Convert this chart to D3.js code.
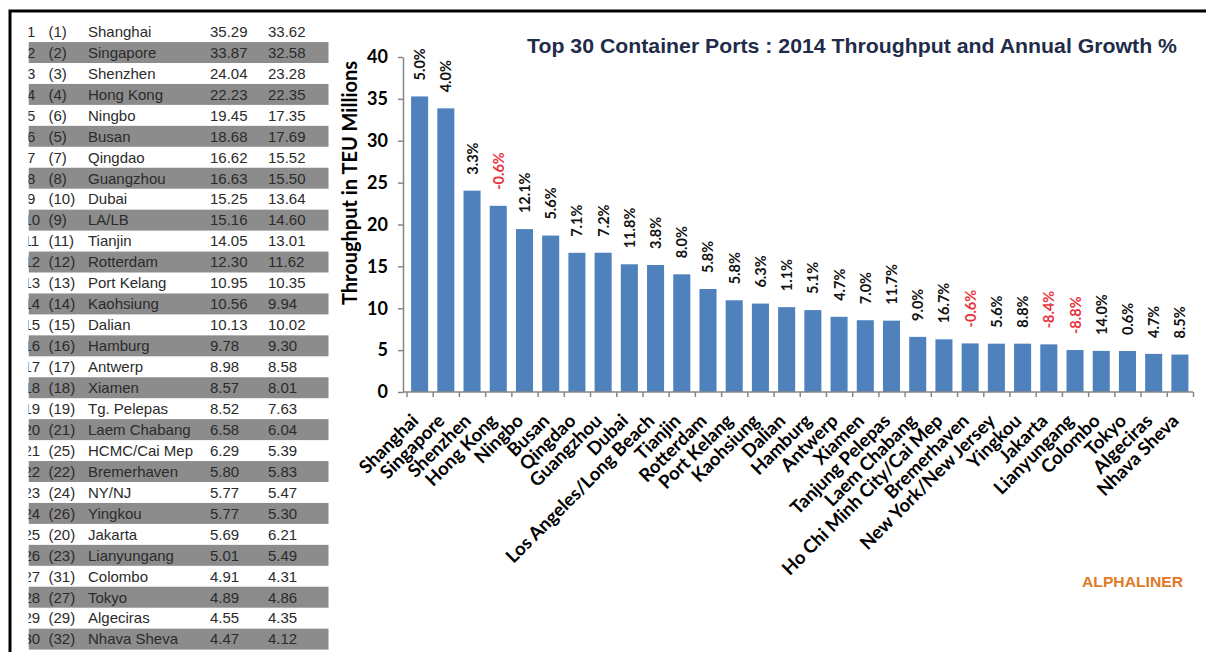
<!DOCTYPE html>
<html>
<head>
<meta charset="utf-8">
<script src="https://cdn.jsdelivr.net/npm/d3@7"></script>
<style>
  html, body { margin: 0; padding: 0; background: #fff; }
  svg { display: block; }
</style>
</head>
<body>
<div id="container"></div>
<script>
const width = 1206, height = 652;

// --- Data: ranking table (left) ------------------------------------------------
const ranks = d3.range(1, 31);
const prevRanks = [1, 2, 3, 4, 6, 5, 7, 8, 10, 9, 11, 12, 13, 14, 15, 16, 17, 18, 19, 21, 25, 22, 24, 26, 20, 23, 31, 27, 29, 32];
const tableNames = ["Shanghai", "Singapore", "Shenzhen", "Hong Kong", "Ningbo", "Busan", "Qingdao", "Guangzhou", "Dubai", "LA/LB",
  "Tianjin", "Rotterdam", "Port Kelang", "Kaohsiung", "Dalian", "Hamburg", "Antwerp", "Xiamen", "Tg. Pelepas", "Laem Chabang",
  "HCMC/Cai Mep", "Bremerhaven", "NY/NJ", "Yingkou", "Jakarta", "Lianyungang", "Colombo", "Tokyo", "Algeciras", "Nhava Sheva"];
const teu2014 = [35.29, 33.87, 24.04, 22.23, 19.45, 18.68, 16.62, 16.63, 15.25, 15.16, 14.05, 12.30, 10.95, 10.56, 10.13,
  9.78, 8.98, 8.57, 8.52, 6.58, 6.29, 5.80, 5.77, 5.77, 5.69, 5.01, 4.91, 4.89, 4.55, 4.47];
const teu2013 = [33.62, 32.58, 23.28, 22.35, 17.35, 17.69, 15.52, 15.50, 13.64, 14.60, 13.01, 11.62, 10.35, 9.94, 10.02,
  9.30, 8.58, 8.01, 7.63, 6.04, 5.39, 5.83, 5.47, 5.30, 6.21, 5.49, 4.31, 4.86, 4.35, 4.12];

// --- Data: bar chart (right) ---------------------------------------------------
const portNames = ["Shanghai", "Singapore", "Shenzhen", "Hong Kong", "Ningbo", "Busan", "Qingdao", "Guangzhou", "Dubai",
  "Los Angeles/Long Beach", "Tianjin", "Rotterdam", "Port Kelang", "Kaohsiung", "Dalian", "Hamburg", "Antwerp", "Xiamen",
  "Tanjung Pelepas", "Laem Chabang", "Ho Chi Minh City/Cai Mep", "Bremerhaven", "New York/New Jersey", "Yingkou", "Jakarta",
  "Lianyungang", "Colombo", "Tokyo", "Algeciras", "Nhava Sheva"];
const throughput = teu2014;
const growth = [5.0, 4.0, 3.3, -0.6, 12.1, 5.6, 7.1, 7.2, 11.8, 3.8, 8.0, 5.8, 5.8, 6.3, 1.1, 5.1, 4.7, 7.0, 11.7, 9.0,
  16.7, -0.6, 5.6, 8.8, -8.4, -8.8, 14.0, 0.6, 4.7, 8.5];
const yTicks = [0, 5, 10, 15, 20, 25, 30, 35, 40];

const svg = d3.select("#container").append("svg").attr("width", width).attr("height", height);
svg.append("rect").attr("width", width).attr("height", height).attr("fill", "#fff");

// --- Table (cropped on its left edge, as in the source image) --------------------
svg.append("defs").append("clipPath").attr("id", "tblClip")
  .append("rect").attr("x", 28.5).attr("y", 0).attr("width", 310).attr("height", height);

const rowY = d3.scaleBand().domain(d3.range(30)).range([21.1, 21.1 + 30 * 20.95]);
const tbl = svg.append("g").attr("clip-path", "url(#tblClip)");

tbl.selectAll("rect.band")
  .data(d3.range(30).filter((i) => i % 2 === 1))
  .join("rect")
  .attr("class", "band")
  .attr("x", 28.5)
  .attr("width", 300)
  .attr("y", (i) => rowY(i))
  .attr("height", rowY.bandwidth())
  .attr("fill", "#8c8c8c");

const cols = [
  { x: (i) => (ranks[i] < 10 ? 27 : 23.5), get: (i) => String(ranks[i]) },
  { x: () => 48.5, get: (i) => `(${prevRanks[i]})` },
  { x: () => 88, get: (i) => tableNames[i] },
  { x: () => 210, get: (i) => teu2014[i].toFixed(2) },
  { x: () => 268, get: (i) => teu2013[i].toFixed(2) },
];
cols.forEach((c) => {
  tbl.selectAll(null)
    .data(d3.range(30))
    .join("text")
    .attr("x", c.x)
    .attr("y", (i) => rowY(i) + rowY.bandwidth() / 2 + 5.3)
    .attr("fill", "#2b2b2b")
    .style("font", "15px 'Liberation Sans', Arial, sans-serif")
    .text(c.get);
});

// --- Frame -----------------------------------------------------------------------
svg.append("path")
  .attr("d", `M10,${height} V11 H${width}`)
  .attr("fill", "none")
  .attr("stroke", "#000")
  .attr("stroke-width", 3);

// --- Chart scales ------------------------------------------------------------------
const x = d3.scaleBand().domain(portNames).range([406.5, 1193]).paddingInner(0.35).paddingOuter(0.175);
const y = d3.scaleLinear().domain([0, 40]).range([392, 57]);
const slot = d3.scaleLinear().domain([0, portNames.length]).range([406.5, 1193]);
const axisX0 = 403;
const labelFont = "Lato, 'Open Sans', sans-serif";

// bars
svg.selectAll("rect.bar")
  .data(portNames)
  .join("rect")
  .attr("class", "bar")
  .attr("x", (d) => x(d))
  .attr("width", x.bandwidth())
  .attr("y", (d, i) => y(throughput[i]))
  .attr("height", (d, i) => y(0) - y(throughput[i]))
  .attr("fill", "#4f81bd");

// y axis
const yAxis = svg.append("g")
  .attr("transform", `translate(${axisX0},0)`)
  .call(d3.axisLeft(y).tickValues(yTicks).tickSize(5).tickSizeOuter(0).tickPadding(10));
yAxis.select(".domain").attr("stroke", "#868686").attr("stroke-width", 1.5);
yAxis.selectAll(".tick line").attr("stroke", "#868686").attr("stroke-width", 1.5);
yAxis.selectAll(".tick text")
  .attr("fill", "#000")
  .style("font-family", labelFont)
  .style("font-weight", "700")
  .style("font-size", "18px");

// x axis: tick marks on category boundaries
const xAxis = svg.append("g")
  .attr("transform", `translate(0,${y(0)})`)
  .call(d3.axisBottom(slot).tickValues(d3.range(portNames.length + 1)).tickSize(5).tickFormat(""));
xAxis.select(".domain").remove();
xAxis.selectAll(".tick line").attr("stroke", "#868686").attr("stroke-width", 1.5);
xAxis.append("line")
  .attr("x1", axisX0).attr("x2", 1193)
  .attr("stroke", "#868686").attr("stroke-width", 1.5);

// category labels
svg.selectAll("text.cat")
  .data(portNames)
  .join("text")
  .attr("class", "cat")
  .attr("transform", (d) => `translate(${x(d) + x.bandwidth() / 2},${y(0) + 30}) rotate(-45)`)
  .attr("text-anchor", "end")
  .attr("fill", "#000")
  .style("font-family", labelFont)
  .style("font-weight", "700")
  .style("font-size", "18.5px")
  .text((d) => d);

// growth labels
svg.selectAll("text.growth")
  .data(portNames)
  .join("text")
  .attr("class", "growth")
  .attr("transform", (d, i) => `translate(${x(d) + x.bandwidth() / 2},${y(throughput[i]) - 16}) rotate(-90)`)
  .attr("dominant-baseline", "central")
  .attr("fill", (d, i) => (growth[i] < 0 ? "#e8323c" : "#111"))
  .style("font-family", labelFont)
  .style("font-weight", "700")
  .style("font-size", "14.5px")
  .text((d, i) => `${growth[i].toFixed(1)}%`);

// y axis title
svg.append("text")
  .attr("transform", "translate(349,183) rotate(-90)")
  .attr("text-anchor", "middle")
  .attr("dominant-baseline", "central")
  .attr("fill", "#000")
  .style("font-family", labelFont)
  .style("font-weight", "700")
  .style("font-size", "20px")
  .text("Throughput in TEU Millions");

// title
svg.append("text")
  .attr("x", 527)
  .attr("y", 53)
  .attr("textLength", 650)
  .attr("lengthAdjust", "spacingAndGlyphs")
  .attr("fill", "#1f2d4a")
  .style("font", "bold 21px 'Liberation Sans', Arial, sans-serif")
  .text("Top 30 Container Ports : 2014 Throughput and Annual Growth %");

// source
svg.append("text")
  .attr("x", 1082)
  .attr("y", 587)
  .attr("textLength", 101)
  .attr("lengthAdjust", "spacingAndGlyphs")
  .attr("fill", "#e07a26")
  .style("font", "bold 15px 'Liberation Sans', Arial, sans-serif")
  .text("ALPHALINER");
</script>
</body>
</html>
